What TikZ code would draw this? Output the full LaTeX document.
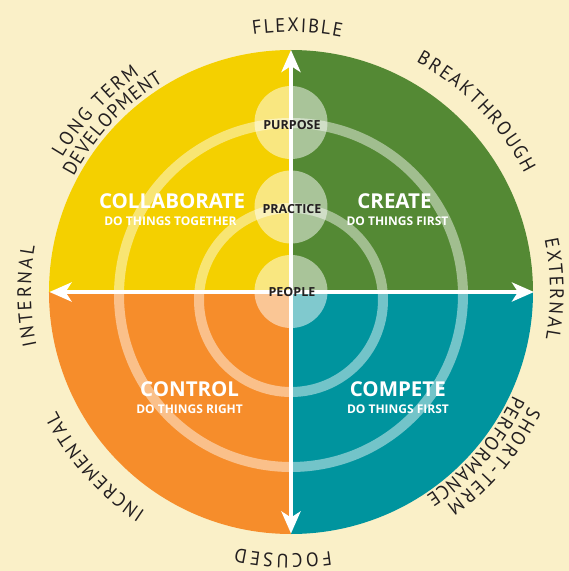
\documentclass[tikz,border=0pt]{standalone}
\usepackage{fontspec}
\usetikzlibrary{arrows.meta,decorations.text}
\newfontfamily\lblfamily[FakeStretch=0.95]{PT Sans}
\newfontfamily\ttlfamily{Open Sans}
\definecolor{bgcream}{HTML}{FAF0C8}
\definecolor{qyellow}{HTML}{F4D000}
\definecolor{qgreen}{HTML}{548934}
\definecolor{qorange}{HTML}{F68D2B}
\definecolor{qteal}{HTML}{00949E}
\definecolor{txtdark}{HTML}{231F20}
\newcommand\lblfont{\lblfamily\fontsize{19.5}{22}\selectfont\color{txtdark}}
\tikzset{
  quadtitle/.style={text=white, font=\ttlfamily\bfseries\fontsize{20.5}{24}\selectfont, anchor=base, inner sep=0pt},
  quadsub/.style={text=white, font=\ttlfamily\bfseries\fontsize{12}{14}\selectfont, anchor=base, inner sep=0pt},
  corelabel/.style={text=txtdark, font=\ttlfamily\bfseries\fontsize{12.5}{14}\selectfont, anchor=base, inner sep=0pt},
  ringband/.style={draw=white, draw opacity=0.45, line width=10pt},
  corebubble/.style={fill=white, fill opacity=0.5},
  axisarrow/.style={draw=white, line width=4pt, >={Stealth[length=22pt,width=19pt,inset=6pt]}, <->},
  rimlabel/.style={decorate, decoration={text along path, text align=fit to path}},
}
\begin{document}
\begin{tikzpicture}[x=1pt,y=1pt]
  % background and bounding box
  \fill[bgcream] (-291,-279) rectangle (278,292);
  \useasboundingbox (-291,-279) rectangle (278,292);

  % quadrants
  \fill[qyellow] (0,0) -- (90:242pt) arc[start angle=90, end angle=180, radius=242pt] -- cycle;
  \fill[qgreen] (0,0) -- (0:242pt) arc[start angle=0, end angle=90, radius=242pt] -- cycle;
  \fill[qteal] (0,0) -- (-90:242pt) arc[start angle=-90, end angle=0, radius=242pt] -- cycle;
  \fill[qorange] (0,0) -- (180:242pt) arc[start angle=180, end angle=270, radius=242pt] -- cycle;

  % rings
  \draw[ringband] (0,-3) circle[radius=172pt];
  \draw[ringband] (0,-8) circle[radius=92pt];

  % core bubbles
  \fill[corebubble] (0,169.5) circle[radius=36.5pt];
  \fill[corebubble] (0,85) circle[radius=36.5pt];
  \fill[corebubble] (0,0.5) circle[radius=36.5pt];

  % axes
  \coordinate (N) at (0,242);
  \coordinate (S) at (0,-241.5);
  \coordinate (W) at (-241.5,0);
  \coordinate (E) at (243,0);
  \draw[axisarrow] (N) -- (S);
  \draw[axisarrow] (W) -- (E);

  % quadrant titles
  \node[quadtitle] (collab) at (-119,84) {COLLABORATE};
  \node[quadsub] (collabsub) at (-120.5,67) {DO THINGS TOGETHER};
  \node[quadtitle] (create) at (103.5,84) {CREATE};
  \node[quadsub] (createsub) at (106.5,67) {DO THINGS FIRST};
  \node[quadtitle] (control) at (-101.4,-104.7) {CONTROL};
  \node[quadsub] (controlsub) at (-101.4,-121.3) {DO THINGS RIGHT};
  \node[quadtitle] (compete) at (106.8,-104.7) {COMPETE};
  \node[quadsub] (competesub) at (107,-121.3) {DO THINGS FIRST};

  % core labels
  \node[corelabel] (purpose) at (1,163) {PURPOSE};
  \node[corelabel] (practice) at (1,79) {PRACTICE};
  \node[corelabel] (people) at (1,-4) {PEOPLE};

  % rim labels (clockwise arcs, letters upright outward)
  \path[rimlabel, decoration={text={|\lblfont|FLEXIBLE}}]
    (98.4:260pt) arc[start angle=98.4, end angle=78.8, radius=260pt];
  \path[rimlabel, decoration={text={|\lblfont|BREAKTHROUGH}}]
    (61.5:262pt) arc[start angle=61.5, end angle=27.0, radius=262pt];
  \path[rimlabel, decoration={text={|\lblfont|EXTERNAL}}]
    (11.7:259pt) arc[start angle=11.7, end angle=-10.4, radius=259pt];
  \path[rimlabel, decoration={text={|\lblfont|SHORT-TERM}}]
    (-25.6:264pt) arc[start angle=-25.6, end angle=-54.0, radius=264pt];
  \path[rimlabel, decoration={text={|\lblfont|PERFORMANCE}}]
    (-25.0:245pt) arc[start angle=-25.0, end angle=-56.6, radius=245pt];
  \path[rimlabel, decoration={text={|\lblfont|FOCUSED}}]
    (-81.3:262pt) arc[start angle=-81.3, end angle=-102.1, radius=262pt];
  \path[rimlabel, decoration={text={|\lblfont|INCREMENTAL}}]
    (236.4:263pt) arc[start angle=236.4, end angle=206.9, radius=263pt];
  \path[rimlabel, decoration={text={|\lblfont|INTERNAL}}]
    (191.9:260pt) arc[start angle=191.9, end angle=169.9, radius=260pt];
  \path[rimlabel, decoration={text={|\lblfont|LONG TERM}}]
    (149.6:265pt) arc[start angle=149.6, end angle=124.8, radius=265pt];
  \path[rimlabel, decoration={text={|\lblfont|DEVELOPMENT}}]
    (152.0:246pt) arc[start angle=152.0, end angle=121.3, radius=246pt];
\end{tikzpicture}
\end{document}
